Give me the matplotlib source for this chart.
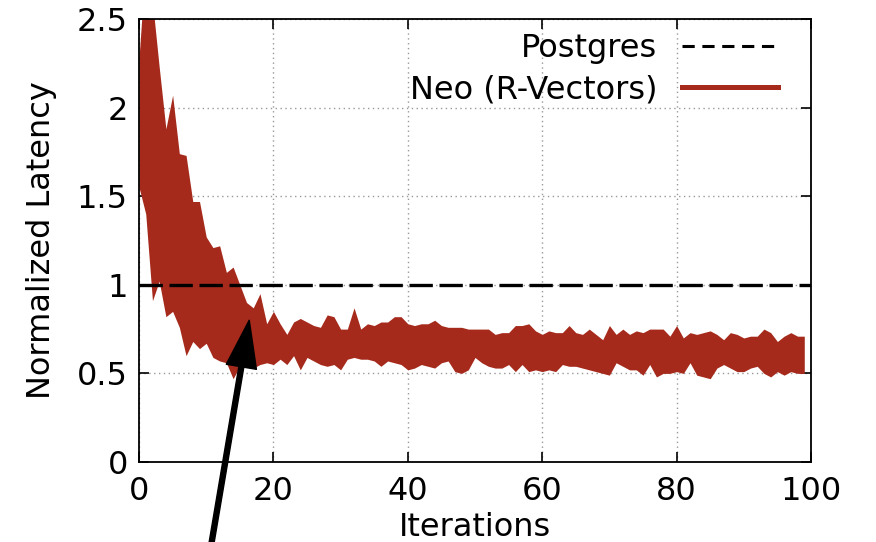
import numpy as np
import matplotlib
matplotlib.use('Agg')
import matplotlib.pyplot as plt
from matplotlib.lines import Line2D

# iterations 0..99, band of normalized latency for Neo, postgres at 1
iters = list(range(100))
neo_upper = [2.28, 2.83, 2.60, 2.23, 1.88, 2.07, 1.74, 1.73, 1.47, 1.47,
             1.27, 1.21, 1.22, 1.07, 1.10, 1.00, 0.90, 0.87, 0.95, 0.78,
             0.85, 0.78, 0.72, 0.79, 0.81, 0.79, 0.77, 0.76, 0.83, 0.82,
             0.75, 0.75, 0.87, 0.75, 0.78, 0.77, 0.79, 0.79, 0.82, 0.82,
             0.78, 0.77, 0.78, 0.78, 0.80, 0.77, 0.76, 0.76, 0.76, 0.75,
             0.75, 0.75, 0.75, 0.72, 0.73, 0.73, 0.77, 0.77, 0.78, 0.74,
             0.72, 0.74, 0.73, 0.73, 0.77, 0.73, 0.72, 0.75, 0.72, 0.69,
             0.77, 0.72, 0.75, 0.72, 0.74, 0.73, 0.75, 0.75, 0.75, 0.71,
             0.77, 0.70, 0.73, 0.72, 0.73, 0.74, 0.72, 0.69, 0.73, 0.72,
             0.70, 0.71, 0.71, 0.75, 0.73, 0.68, 0.71, 0.73, 0.71, 0.71]
neo_lower = [1.55, 1.40, 0.91, 1.02, 0.82, 0.85, 0.76, 0.60, 0.68, 0.64,
             0.67, 0.59, 0.57, 0.56, 0.47, 0.54, 0.54, 0.53, 0.55, 0.56,
             0.55, 0.58, 0.55, 0.60, 0.52, 0.59, 0.57, 0.55, 0.54, 0.55,
             0.52, 0.58, 0.59, 0.58, 0.58, 0.57, 0.54, 0.57, 0.56, 0.55,
             0.52, 0.53, 0.55, 0.54, 0.53, 0.56, 0.57, 0.51, 0.50, 0.52,
             0.59, 0.56, 0.54, 0.53, 0.53, 0.55, 0.51, 0.55, 0.51, 0.52,
             0.51, 0.52, 0.51, 0.55, 0.54, 0.54, 0.53, 0.52, 0.51, 0.50,
             0.49, 0.56, 0.54, 0.52, 0.52, 0.49, 0.55, 0.48, 0.50, 0.50,
             0.51, 0.50, 0.56, 0.49, 0.48, 0.47, 0.53, 0.55, 0.53, 0.51,
             0.51, 0.53, 0.54, 0.50, 0.48, 0.51, 0.49, 0.51, 0.50, 0.50]
postgres = 1.0

red = '#a52a1c'
plt.rcParams['font.family'] = 'DejaVu Sans'
plt.rcParams['font.size'] = 23

fig = plt.figure(figsize=(8.76, 5.42), dpi=100)
ax = fig.add_axes([0.1587, 0.1476, 0.7671, 0.8174])

ax.grid(True, color='#999999', linestyle=(0, (1, 2.5)), linewidth=1)
ax.set_axisbelow(True)
ax.fill_between(iters, neo_lower, neo_upper, color=red, linewidth=0, zorder=2)
ax.axhline(postgres, color='black', linewidth=2.4, dashes=(7, 2), zorder=3)

ax.set_xlim(0, 100)
ax.set_ylim(0, 2.5)
ax.set_xticks([0, 20, 40, 60, 80, 100])
ax.set_yticks([0, 0.5, 1, 1.5, 2, 2.5])
ax.set_yticklabels(['0', '0.5', '1', '1.5', '2', '2.5'])
ax.tick_params(direction='in', length=7, width=1.2, top=True, right=True)
ax.tick_params(axis='x', pad=10)
ax.tick_params(axis='y', pad=8)
for s in ax.spines.values():
    s.set_linewidth(1.3)

ax.set_xlabel('Iterations', labelpad=4)
ax.set_ylabel('Normalized Latency', labelpad=14)

handles = [Line2D([], [], color='black', linewidth=2.2, dashes=(4, 2.5)),
           Line2D([], [], color=red, linewidth=3.6)]
ax.legend(handles, ['Postgres', 'Neo (R-Vectors)'], loc='upper right',
          bbox_to_anchor=(0.951, 0.968), frameon=False, markerfirst=False,
          handlelength=3.0, handletextpad=0.78, labelspacing=0.31,
          borderaxespad=0, borderpad=0)

ax.annotate('', xy=(16.4, 0.80), xytext=(10.6, -0.5), xycoords='data',
            annotation_clip=False,
            arrowprops=dict(width=3.6, headwidth=22, headlength=34,
                            color='black', shrink=0))

fig.savefig('out.png', dpi=100)
